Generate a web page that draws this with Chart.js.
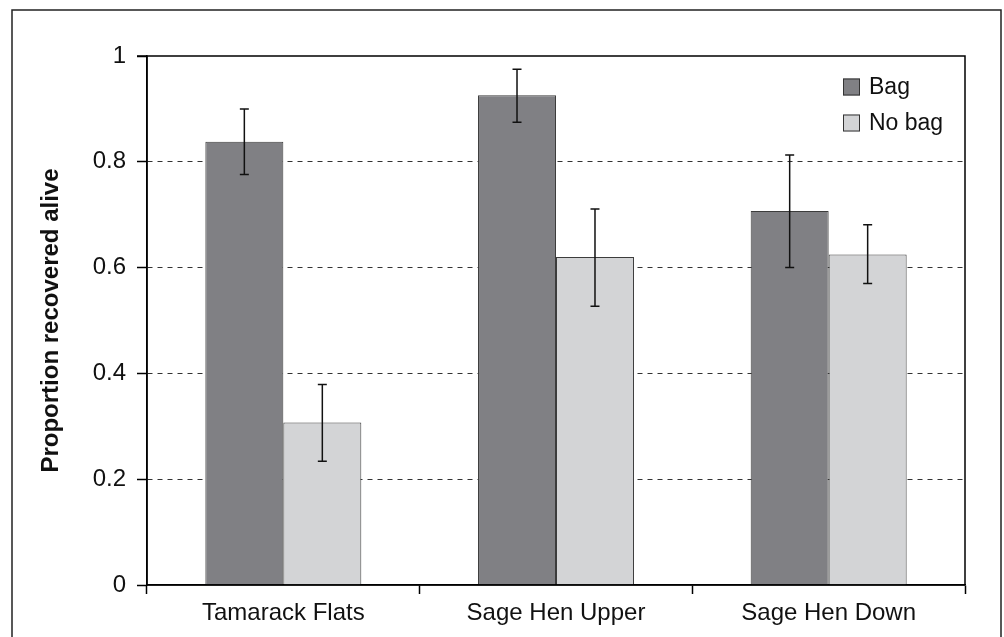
<!DOCTYPE html>
<html>
<head>
<meta charset="utf-8">
<script src="https://cdn.jsdelivr.net/npm/chart.js@4"></script>
<style>
  body { margin: 0; background: #fff; }
  #wrap { width: 1004px; height: 637px; }
</style>
</head>
<body>
<div id="wrap"><canvas id="Chart" width="1004" height="637"></canvas></div>
<script>
// data
const sites = ["Tamarack Flats", "Sage Hen Upper", "Sage Hen Down"];
const bagValues = [0.838, 0.926, 0.707];
const bagLow = [0.776, 0.875, 0.600];
const bagHigh = [0.900, 0.975, 0.813];
const noBagValues = [0.307, 0.620, 0.625];
const noBagLow = [0.234, 0.527, 0.570];
const noBagHigh = [0.379, 0.711, 0.681];
const yTicks = [0, 0.2, 0.4, 0.6, 0.8, 1];

const FONT = "'Liberation Sans', Arial, sans-serif";
const DARK = "#808084";
const LIGHT = "#d3d4d6";

// outer border + box round the plot area
const framePlugin = {
  id: "frame",
  beforeDraw(chart) {
    const ctx = chart.ctx;
    ctx.save();
    ctx.fillStyle = "#fff";
    ctx.fillRect(0, 0, chart.width, chart.height);
    ctx.strokeStyle = "#222";
    ctx.lineWidth = 1.5;
    ctx.beginPath();
    ctx.moveTo(12, chart.height + 2);
    ctx.lineTo(12, 10);
    ctx.lineTo(1001, 10);
    ctx.lineTo(1001, chart.height + 2);
    ctx.stroke();
    ctx.restore();
  },
  afterDraw(chart) {
    const a = chart.chartArea;
    const ctx = chart.ctx;
    ctx.save();
    ctx.strokeStyle = "#000";
    ctx.lineWidth = 1.5;
    ctx.setLineDash([]);
    ctx.beginPath();
    ctx.moveTo(a.left - 10, a.top);
    ctx.lineTo(a.right, a.top);
    ctx.lineTo(a.right, a.bottom);
    ctx.moveTo(a.left, a.top);
    ctx.lineTo(a.left, a.bottom);
    ctx.lineTo(a.right, a.bottom);
    ctx.stroke();
    ctx.restore();
  }
};

// error bars from the low/high arrays
const errorBarPlugin = {
  id: "errorBars",
  afterDatasetsDraw(chart) {
    const ctx = chart.ctx;
    const y = chart.scales.y;
    ctx.save();
    ctx.strokeStyle = "#111";
    ctx.lineWidth = 1.5;
    chart.data.datasets.forEach((ds, di) => {
      const meta = chart.getDatasetMeta(di);
      meta.data.forEach((bar, i) => {
        const top = y.getPixelForValue(ds.high[i]);
        const bot = y.getPixelForValue(ds.low[i]);
        ctx.beginPath();
        ctx.moveTo(bar.x, top);
        ctx.lineTo(bar.x, bot);
        ctx.moveTo(bar.x - 4.5, top);
        ctx.lineTo(bar.x + 4.5, top);
        ctx.moveTo(bar.x - 4.5, bot);
        ctx.lineTo(bar.x + 4.5, bot);
        ctx.stroke();
      });
    });
    ctx.restore();
  }
};

// legend inside the plot, top right, stacked
const boxLegendPlugin = {
  id: "boxLegend",
  afterDraw(chart, args, opts) {
    const ctx = chart.ctx;
    ctx.save();
    ctx.font = "23px " + FONT;
    ctx.textBaseline = "middle";
    chart.data.datasets.forEach((ds, i) => {
      const cy = opts.y + i * opts.gap;
      ctx.fillStyle = ds.backgroundColor;
      ctx.fillRect(opts.x, cy - 8.5, 17, 17);
      ctx.strokeStyle = "#333";
      ctx.lineWidth = 1;
      ctx.strokeRect(opts.x + 0.5, cy - 8, 16, 16);
      ctx.fillStyle = "#111";
      ctx.fillText(ds.label, opts.x + 26, cy + 1);
    });
    ctx.restore();
  }
};

new Chart(document.getElementById("Chart"), {
  type: "bar",
  data: {
    labels: sites,
    datasets: [
      {
        label: "Bag",
        data: bagValues,
        low: bagLow,
        high: bagHigh,
        backgroundColor: DARK,
        borderColor: "#3c3c3c",
        borderWidth: 1,
        barPercentage: 1,
        categoryPercentage: 0.572,
      },
      {
        label: "No bag",
        data: noBagValues,
        low: noBagLow,
        high: noBagHigh,
        backgroundColor: LIGHT,
        borderColor: "#3c3c3c",
        borderWidth: 1,
        barPercentage: 1,
        categoryPercentage: 0.572,
      },
    ],
  },
  options: {
    responsive: false,
    animation: false,
    layout: { padding: { top: 56, right: 39, bottom: 0, left: 0 } },
    scales: {
      x: {
        afterFit(s) { s.height = 52; },
        grid: {
          offset: true,
          drawOnChartArea: false,
          drawTicks: true,
          tickLength: 9,
          tickColor: "#000",
          tickWidth: 1.5,
        },
        border: { display: true, color: "#000", width: 1.5 },
        ticks: { color: "#111", font: { family: FONT, size: 24 }, padding: 5 },
      },
      y: {
        min: 0,
        max: 1,
        afterFit(s) { s.width = 147; },
        afterBuildTicks(s) { s.ticks = yTicks.map((v) => ({ value: v })); },
        grid: {
          color: (c) => (c.tick && (c.tick.value === 0 || c.tick.value === 1) ? "rgba(0,0,0,0)" : "#333"),
          lineWidth: 1,
          drawTicks: true,
          tickLength: 10,
          tickColor: "#000",
          tickWidth: 1.5,
          tickBorderDash: [],
        },
        border: { display: true, color: "#000", width: 1.5, dash: [5, 5] },
        ticks: {
          color: "#111",
          font: { family: FONT, size: 24 },
          padding: 11,
          callback: (v) => String(Math.round(v * 10) / 10),
        },
        title: {
          display: true,
          text: "Proportion recovered alive",
          color: "#111",
          font: { family: FONT, size: 24, weight: "bold" },
          padding: { top: 37, bottom: 0 },
        },
      },
    },
    plugins: {
      legend: { display: false },
      tooltip: { enabled: false },
      boxLegend: { x: 843, y: 87, gap: 36 },
    },
  },
  plugins: [framePlugin, errorBarPlugin, boxLegendPlugin],
});
</script>
</body>
</html>
